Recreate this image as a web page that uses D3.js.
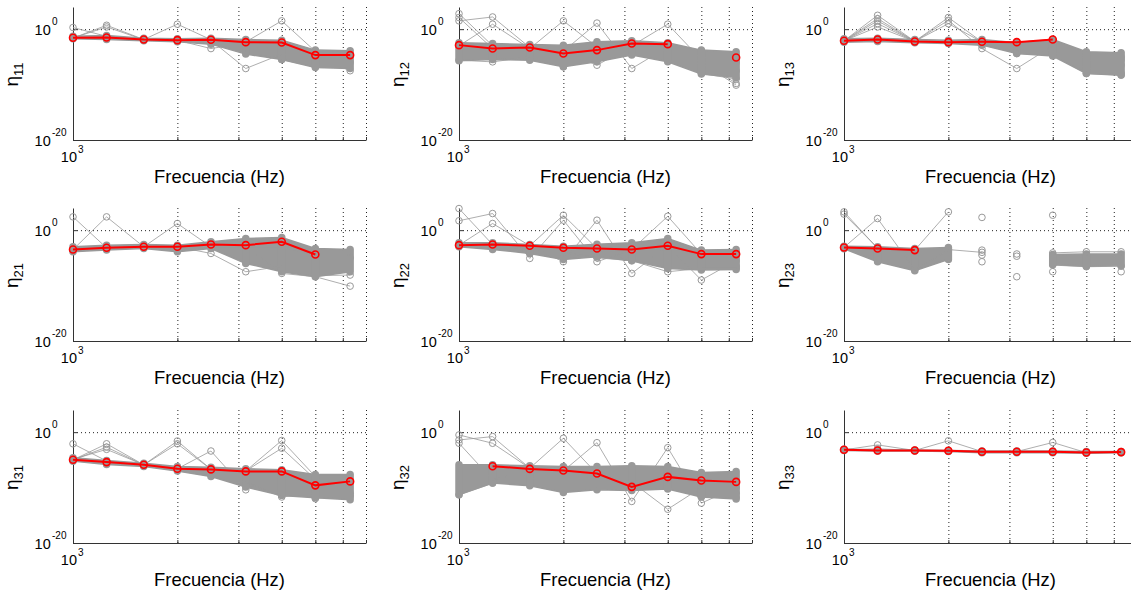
<!DOCTYPE html>
<html><head><meta charset="utf-8">
<script src="https://cdn.jsdelivr.net/npm/d3@7"></script>
<style>
body{margin:0;background:#fff}
svg{display:block}
text{font-family:"Liberation Sans",Arial,Helvetica,sans-serif;fill:#000}
</style>
</head><body>
<svg id="chart" width="1131" height="592"></svg>
<script>
// ---------------- data (values are log10 of eta) ----------------
const freqs = [1000, 1250, 1600, 2000, 2500, 3150, 4000, 5000, 6300];
const xDomain = [1000, 7000];
const yDomain = [1e-20, 1e4];
const xMinorTicks = [2000, 3000, 4000, 5000, 6000, 7000];
const xTickLabelExps = [3];
const yTickLabelExps = [0, -20];
const xLabel = "Frecuencia (Hz)";
const subscripts = ["11", "12", "13", "21", "22", "23", "31", "32", "33"];

// red (reference) series
const red11 = [-1.56, -1.50, -1.86, -1.98, -1.92, -2.34, -2.40, -4.68, -4.68];
const red12 = [-2.88, -3.48, -3.30, -4.38, -3.78, -2.58, -2.70, null, -5.10];
const red13 = [-2.10, -1.86, -2.22, -2.34, -2.28, -2.34, -1.86, null, null];
const red21 = [-3.48, -3.18, -3.00, -3.00, -2.58, -2.70, -2.10, -4.38, null];
const red22 = [-2.70, -2.58, -2.82, -3.18, -3.30, -3.48, -2.82, -4.32, -4.32];
const red23 = [-3.12, -3.30, -3.60, null, null, null, null, null, null];
const red31 = [-4.98, -5.40, -5.88, -6.60, -6.72, -7.08, -7.08, -9.60, -8.88];
const red32 = [null, -6.15, -6.63, -6.93, -7.47, -9.87, -8.07, -8.73, -8.97];
const red33 = [-3.18, -3.30, -3.30, -3.36, -3.54, -3.54, -3.54, -3.66, -3.60];

// dense gray bundle: upper / lower envelope
const hi11 = [-1.26, -1.14, -1.62, -1.74, -1.62, -1.86, -1.98, -3.78, -3.90];
const lo11 = [-1.74, -1.86, -2.10, -2.28, -2.70, -4.50, -5.47, -6.91, -7.09];
const hi12 = [-2.46, -2.58, -2.76, -2.88, -2.28, -2.10, -2.46, -3.78, -4.08];
const lo12 = [-5.71, -5.47, -5.59, -6.79, -5.89, -4.68, -5.89, -8.11, -8.71];
const hi13 = [-1.74, -1.62, -1.86, -1.98, -1.86, -2.46, -1.86, -4.08, -4.26];
const lo13 = [-2.34, -2.22, -2.46, -2.58, -2.88, -4.38, -4.86, -7.99, -8.29];
const hi21 = [-3.00, -2.70, -2.58, -2.70, -2.10, -1.50, -1.32, -3.30, -3.48];
const lo21 = [-3.90, -3.60, -3.30, -3.90, -3.30, -6.00, -7.51, -8.41, -7.51];
const hi22 = [-2.28, -2.28, -2.58, -2.88, -2.52, -2.28, -1.50, -3.60, -3.48];
const lo22 = [-3.00, -3.48, -4.20, -5.29, -4.80, -5.53, -6.91, -7.21, -7.09];
const hi23 = [-2.88, -3.00, -3.30, -3.12, null, null, -4.40, -4.30, -4.30];
const lo23 = [-3.36, -5.71, -7.33, -5.29, null, null, -6.20, -6.50, -6.40];
const hi31 = [-4.62, -5.10, -5.59, -6.19, -6.31, -6.61, -6.79, -7.63, -7.63];
const lo31 = [-5.23, -5.83, -6.19, -7.03, -7.99, -9.91, -11.41, -11.83, -12.19];
const hi32 = [-5.89, -5.89, -6.07, -6.19, -6.19, -6.07, -6.19, -7.27, -7.09];
const lo32 = [-11.29, -9.19, -9.67, -10.87, -10.39, -10.51, -10.27, -11.71, -12.07];
const hi33 = [-3.10, -3.20, -3.20, -3.30, -3.40, -3.40, -3.40, -3.50, -3.50];
const lo33 = [-3.30, -3.40, -3.40, -3.50, -3.70, -3.70, -3.70, -3.80, -3.70];

// individual gray traces (outliers)
const gray11 = [
  [-1.6, 0.7, -1.86, 0.9, -1.9, -2.3, 1.5, -4.0, -4.7],
  [0.3, -1.3, -1.9, -2.0, -3.5, -2.5, -2.5, -4.7, -4.7],
  [-1.6, 0.4, -1.9, -2.0, -2.0, -7.1, -4.5, -5.0, -7.5],
  [-1.5, -1.4, -1.8, -1.9, -2.1, -4.0, -5.5, -6.8, -6.0]
];
const gray12 = [
  [2.8, -3.0, -3.3, -3.6, -3.2, -3.0, -3.0, -5.0, -6.0],
  [2.1, -3.5, -3.5, 1.5, -3.2, -3.0, 0.9, -5.5, -9.8],
  [1.5, 2.2, -3.3, -4.0, 1.1, -7.1, -3.2, -6.0, -10.1],
  [-3.0, 0.9, -3.5, -4.0, -6.5, -3.0, -4.0, -6.5, -7.5],
  [-5.6, -5.9, -5.0, -6.8, -5.5, -4.5, -5.5, -8.0, -9.0]
];
const gray13 = [
  [-2.1, 2.5, -2.2, 2.1, -2.3, -2.3, -2.0, -4.5, -5.0],
  [-2.1, 1.9, -2.2, 1.6, -3.5, -7.1, -3.0, -5.0, -5.5],
  [-2.1, 1.5, -2.2, 1.0, -2.3, -2.5, -2.5, -5.5, -6.5],
  [-2.1, 1.0, -2.2, -2.3, -2.3, -3.5, -4.0, -7.0, -8.0],
  [-2.1, 0.4, -2.2, -2.3, -2.3, -4.4, -4.7, -8.0, -8.3]
];
const gray21 = [
  [2.4, -3.2, -3.0, 1.2, -3.0, -3.0, -3.0, -4.5, -5.0],
  [-3.5, 2.4, -3.0, -3.0, -4.2, -7.5, -6.5, -8.2, -8.1],
  [-3.5, -3.2, -3.0, -3.2, -2.8, -3.0, -7.8, -8.4, -10.1]
];
const gray22 = [
  [3.9, -2.6, -2.8, 2.7, -3.3, -3.5, 2.5, -4.3, -4.3],
  [1.7, 3.0, -5.1, 1.8, -5.7, -3.5, -2.8, -9.0, -5.5],
  [-2.7, 1.2, -2.8, -5.7, 1.8, -7.8, -2.8, -4.5, -6.5],
  [-2.7, -2.6, -3.5, -4.0, -5.0, -5.5, -7.5, -6.9, -6.9]
];
const gray23 = [
  [3.3, -3.3, -3.6, 3.3, null, null, null, null, null],
  [2.9, -3.2, -3.6, -3.5, -4.0, null, null, null, null],
  [-3.1, 2.1, -7.2, -3.6, null, null, null, null, null],
  [null, null, null, null, 2.3, null, 2.7, null, null],
  [null, null, null, null, -3.6, null, -7.5, null, -7.5],
  [null, null, null, null, -4.5, null, -4.1, -3.9, -3.9],
  [null, null, null, null, -5.7, null, -6.3, -6.6, -6.5],
  [null, null, null, null, null, -4.3, null, null, null],
  [null, null, null, null, null, -4.7, null, null, null],
  [null, null, null, null, null, -8.4, null, null, null]
];
const gray31 = [
  [-2.1, -5.2, -5.9, -1.6, -6.7, -7.0, -1.5, -8.0, -9.0],
  [-5.0, -2.1, -5.9, -2.1, -6.7, -7.0, -2.9, -8.5, -9.0],
  [-5.0, -2.7, -5.9, -6.6, -3.4, -10.4, -7.0, -12.0, -11.0],
  [-4.9, -3.1, -5.9, -6.5, -7.8, -9.0, -11.7, -11.0, -11.5]
];
const gray32 = [
  [-0.5, -2.0, -6.5, -1.1, -7.5, -9.0, -8.0, -9.0, -9.0],
  [-1.4, -0.8, -6.5, -7.0, -1.9, -12.5, -2.8, -12.8, -10.0],
  [-2.0, -8.6, -7.0, -7.5, -8.0, -9.0, -13.9, -10.0, -11.0],
  [-11.3, -9.2, -8.0, -10.5, -10.0, -10.0, -10.0, -11.5, -11.8]
];
const gray33 = [
  [-3.2, -2.3, -3.3, -1.56, -3.5, -3.5, -1.86, -3.7, -3.6],
  [-3.2, -3.0, -3.3, -3.4, -3.5, -3.5, -3.5, -3.6, -3.6]
];

const panels = [
  {sub: subscripts[0], red: red11, hi: hi11, lo: lo11, gray: gray11},
  {sub: subscripts[1], red: red12, hi: hi12, lo: lo12, gray: gray12},
  {sub: subscripts[2], red: red13, hi: hi13, lo: lo13, gray: gray13},
  {sub: subscripts[3], red: red21, hi: hi21, lo: lo21, gray: gray21},
  {sub: subscripts[4], red: red22, hi: hi22, lo: lo22, gray: gray22},
  {sub: subscripts[5], red: red23, hi: hi23, lo: lo23, gray: gray23},
  {sub: subscripts[6], red: red31, hi: hi31, lo: lo31, gray: gray31},
  {sub: subscripts[7], red: red32, hi: hi32, lo: lo32, gray: gray32},
  {sub: subscripts[8], red: red33, hi: hi33, lo: lo33, gray: gray33}
];

// ---------------- layout ----------------
const colLeft = [73, 459, 844];
const rowTop = [7, 208, 410];
const W = 293, H = 133;
const GRAY = "#999999";
const RED = "#ff0000";

const svg = d3.select("#chart");

panels.forEach((p, k) => {
  const r = Math.floor(k / 3), c = k % 3;
  const g = svg.append("g").attr("transform", `translate(${colLeft[c]},${rowTop[r]})`);
  const x = d3.scaleLog().domain(xDomain).range([0, W]);
  const y = d3.scaleLog().domain(yDomain).range([H, 0]);
  const px = i => x(freqs[i]);
  const py = v => y(Math.pow(10, v));

  // grid (dotted)
  const gx = g.append("g").attr("transform", `translate(0,${H})`)
    .call(d3.axisBottom(x).tickValues(xMinorTicks).tickSize(-H).tickFormat(""));
  gx.select(".domain").remove();
  gx.selectAll("line").attr("stroke", "#222").attr("stroke-dasharray", "1,3").attr("stroke-width", 1);
  const gy = g.append("g")
    .call(d3.axisLeft(y).tickValues([1e0]).tickSize(-W).tickFormat(""));
  gy.select(".domain").remove();
  gy.selectAll("line").attr("stroke", "#222").attr("stroke-dasharray", "1,3").attr("stroke-width", 1);

  // axes (inward ticks)
  const ax = g.append("g").attr("transform", `translate(0,${H})`)
    .call(d3.axisBottom(x).tickValues(xMinorTicks).tickSizeInner(-3).tickSizeOuter(0).tickFormat(""));
  ax.select(".domain").attr("stroke", "#333");
  ax.selectAll("line").attr("stroke", "#333");
  const ay = g.append("g")
    .call(d3.axisLeft(y).tickValues([1e-20, 1e0]).tickSizeInner(-4).tickSizeOuter(0).tickFormat(""));
  ay.select(".domain").attr("stroke", "#333");
  ay.selectAll("line").attr("stroke", "#333");

  // y tick labels 10^n
  yTickLabelExps.forEach(e => {
    const ty = y(Math.pow(10, e));
    g.append("text").attr("x", -22.3).attr("y", ty + 5.5)
      .attr("text-anchor", "end").attr("font-size", 14.5).text("10");
    g.append("text").attr("x", -21).attr("y", ty - 4)
      .attr("font-size", 10).text(String(e));
  });
  // x tick label 10^3
  xTickLabelExps.forEach(e => {
    const tx = x(Math.pow(10, e));
    g.append("text").attr("x", tx + 4).attr("y", H + 22)
      .attr("text-anchor", "end").attr("font-size", 14.5).text("10");
    g.append("text").attr("x", tx + 5).attr("y", H + 13)
      .attr("font-size", 10).text(String(e));
  });

  // x label
  g.append("text").attr("x", W / 2).attr("y", H + 43)
    .attr("text-anchor", "middle").attr("font-size", 18.4).text(xLabel);

  // y label eta_ij
  const yl = g.append("text")
    .attr("transform", `translate(${-55},${H / 2 + 1}) rotate(-90)`)
    .attr("text-anchor", "middle");
  yl.append("tspan").attr("font-size", 19).text("\u03B7");
  yl.append("tspan").attr("font-size", 13).attr("dy", 5).text(p.sub);

  // gray bundle: filled envelope + stacked markers
  const idx = freqs.map((f, i) => i);
  const area = d3.area()
    .defined(i => p.hi[i] != null && p.lo[i] != null)
    .x(i => px(i)).y0(i => py(p.lo[i])).y1(i => py(p.hi[i]));
  g.append("path").datum(idx).attr("d", area).attr("fill", GRAY).attr("stroke", GRAY).attr("stroke-width", 1.5);
  g.selectAll(".stack").data(idx.filter(i => p.hi[i] != null)).join("line")
    .attr("x1", i => px(i)).attr("x2", i => px(i))
    .attr("y1", i => py(p.hi[i])).attr("y2", i => py(p.lo[i]))
    .attr("stroke", GRAY).attr("stroke-width", 7.5).attr("stroke-linecap", "round");

  // individual gray traces
  const line = d3.line().defined(d => d.v != null).x(d => px(d.i)).y(d => py(d.v));
  p.gray.forEach(s => {
    const pts = s.map((v, i) => ({i, v}));
    g.append("path").datum(pts).attr("d", line)
      .attr("fill", "none").attr("stroke", GRAY).attr("stroke-width", 0.8);
    g.selectAll(null).data(pts.filter(d => d.v != null)).join("circle")
      .attr("cx", d => px(d.i)).attr("cy", d => py(d.v)).attr("r", 3.3)
      .attr("fill", "none").attr("stroke", GRAY).attr("stroke-width", 1);
  });

  // red reference trace
  const rpts = p.red.map((v, i) => ({i, v}));
  g.append("path").datum(rpts).attr("d", line)
    .attr("fill", "none").attr("stroke", RED).attr("stroke-width", 2);
  g.selectAll(null).data(rpts.filter(d => d.v != null)).join("circle")
    .attr("cx", d => px(d.i)).attr("cy", d => py(d.v)).attr("r", 3.5)
    .attr("fill", "none").attr("stroke", RED).attr("stroke-width", 1.6);
});
</script>
</body></html>
